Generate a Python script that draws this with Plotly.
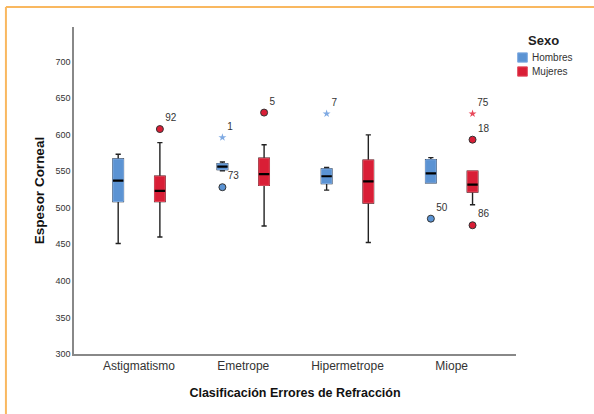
import plotly.graph_objects as go

categories = ["Astigmatismo", "Emetrope", "Hipermetrope", "Miope"]

# Hombres box statistics
h_low = [451, 550.5, 524, 534]
h_q1 = [508.5, 552, 533, 534]
h_med = [537, 556, 543, 547]
h_q3 = [566.5, 560, 553, 565.5]
h_up = [573, 562.5, 555, 568.5]

# Mujeres box statistics
m_low = [460, 475, 452.5, 504]
m_q1 = [508.5, 530.5, 506.5, 521.5]
m_med = [523, 546, 536, 531.5]
m_q3 = [543, 567.5, 565, 550]
m_up = [589, 586, 599.5, 550]

# Outliers (category index, value, label, star?)
h_out_cat = [1, 1, 2, 3]
h_out_val = [528, 596, 628.5, 485]
h_out_lbl = ["73", "1", "7", "50"]
h_out_star = [False, True, True, False]

m_out_cat = [0, 1, 3, 3, 3]
m_out_val = [607.5, 630, 628.5, 593, 476]
m_out_lbl = ["92", "5", "75", "18", "86"]
m_out_star = [False, False, True, False, False]

legend_title = "Sexo"

series = [
    dict(name="Hombres", off=-0.2, low=h_low, q1=h_q1, med=h_med, q3=h_q3, up=h_up,
         fill="#5B93D3", edge="#7EAAE0", star="#7FAAE3",
         oc=h_out_cat, ov=h_out_val, ol=h_out_lbl, os=h_out_star),
    dict(name="Mujeres", off=0.2, low=m_low, q1=m_q1, med=m_med, q3=m_q3, up=m_up,
         fill="#D91E36", edge="#E24A5C", star="#E8485A",
         oc=m_out_cat, ov=m_out_val, ol=m_out_lbl, os=m_out_star),
]

FONT = "Liberation Sans, Arial"
BW = 0.1
fig = go.Figure()
for s in series:
    xs = [i + s["off"] for i in range(len(categories))]
    # whiskers (black)
    fig.add_trace(go.Box(x=xs, q1=s["q1"], median=s["med"], q3=s["q3"],
                         lowerfence=s["low"], upperfence=s["up"], width=BW,
                         whiskerwidth=0.5, line=dict(color="#222", width=1.4),
                         fillcolor=s["fill"], boxpoints=False, showlegend=False,
                         hoverinfo="skip"))
    # coloured box
    fig.add_trace(go.Box(x=xs, q1=s["q1"], median=s["med"], q3=s["q3"],
                         lowerfence=s["q1"], upperfence=s["q3"], width=BW,
                         whiskerwidth=0, line=dict(color=s["edge"], width=1),
                         fillcolor=s["fill"], boxpoints=False, name=s["name"],
                         showlegend=False))
    # median line
    fig.add_trace(go.Box(x=xs, q1=s["med"], median=s["med"], q3=s["med"],
                         lowerfence=s["med"], upperfence=s["med"], width=BW,
                         whiskerwidth=0, line=dict(color="#000", width=2.2),
                         fillcolor="#000", boxpoints=False, showlegend=False,
                         hoverinfo="skip"))
    # outliers
    for is_star in (False, True):
        idx = [k for k in range(len(s["ov"])) if s["os"][k] == is_star]
        if not idx:
            continue
        fig.add_trace(go.Scatter(
            x=[s["oc"][k] + s["off"] for k in idx],
            y=[s["ov"][k] for k in idx],
            text=[s["ol"][k] for k in idx],
            mode="markers+text", textposition="top right",
            textfont=dict(family=FONT, size=10, color="#333"),
            marker=dict(symbol="star" if is_star else "circle",
                        size=6 if is_star else 7,
                        color=s["star"] if is_star else s["fill"],
                        line=dict(width=0 if is_star else 1, color="#333")),
            showlegend=False))

# Frame decoration (orange)
fig.add_shape(type="line", xref="paper", yref="paper", x0=-0.154, x1=1.3, y0=1.061, y1=1.061,
              line=dict(color="#F9B860", width=2))
fig.add_shape(type="line", xref="paper", yref="paper", x0=-0.154, x1=-0.154, y0=-0.3, y1=1.061,
              line=dict(color="#F9B860", width=2))

# Manual legend
fig.add_annotation(xref="paper", yref="paper", x=1.0633, y=0.9602, text="<b>" + legend_title + "</b>",
                   showarrow=False, xanchor="center", yanchor="middle",
                   font=dict(family=FONT, size=13, color="#222"))
leg_y = [0.9067, 0.8639]
for s, yc in zip(series, leg_y):
    fig.add_shape(type="rect", xref="paper", yref="paper", x0=1.0038, x1=1.0256,
                  y0=yc - 0.0142, y1=yc + 0.0142, fillcolor=s["fill"],
                  line=dict(color=s["edge"], width=1))
    fig.add_annotation(xref="paper", yref="paper", x=1.031, y=yc, text=s["name"],
                       showarrow=False, xanchor="left", yanchor="middle",
                       font=dict(family=FONT, size=10, color="#333"))

fig.update_layout(
    width=594, height=414, margin=dict(l=74, r=78, t=27, b=60),
    paper_bgcolor="white", plot_bgcolor="white", boxmode="overlay", showlegend=False,
    font=dict(family=FONT, color="#333"),
    xaxis=dict(range=[-0.624, 3.617], tickvals=list(range(len(categories))),
               ticktext=categories, showline=True, linecolor="#888", linewidth=1.5,
               showgrid=False, zeroline=False, ticks="",
               tickfont=dict(size=12, color="#333"),
               title=dict(text="<b>Clasificación Errores de Refracción</b>",
                          font=dict(size=12.5, color="#111"), standoff=16)),
    yaxis=dict(range=[300, 747], tickvals=[300, 350, 400, 450, 500, 550, 600, 650, 700],
               showline=True, linecolor="#888", linewidth=1.5, showgrid=False,
               zeroline=False, ticks="", tickfont=dict(size=9, color="#333"),
               title=dict(text="<b>Espesor Corneal</b>", font=dict(size=13.5, color="#111"),
                          standoff=8)),
)
fig.write_html("out.html")
